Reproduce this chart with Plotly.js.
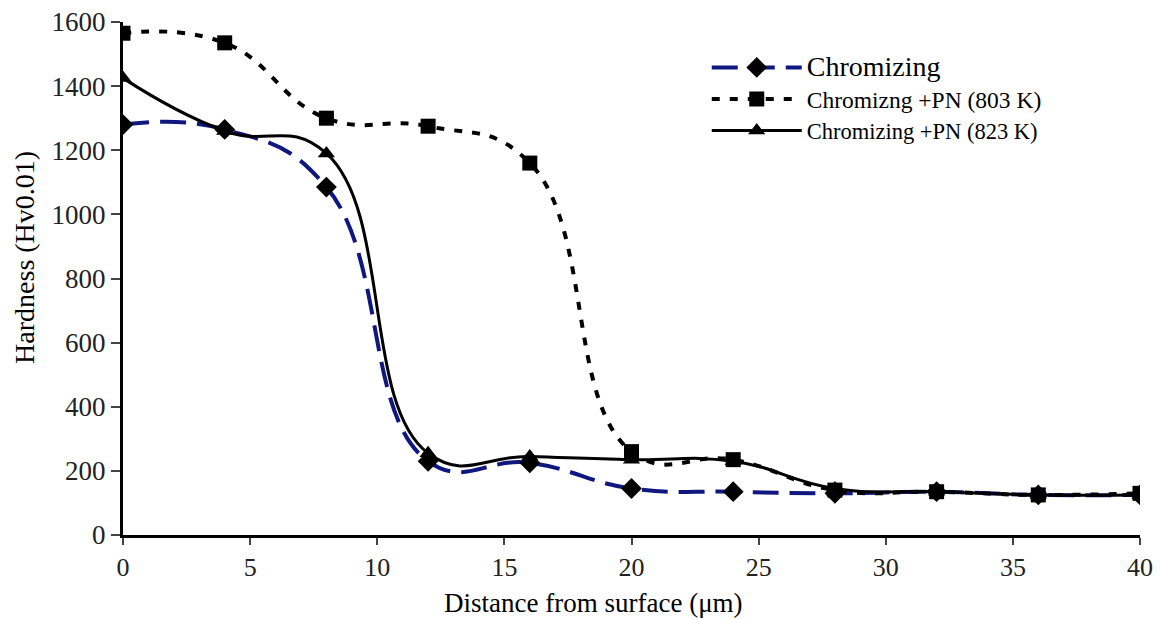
<!DOCTYPE html>
<html>
<head>
<meta charset="utf-8">
<script src="https://cdn.plot.ly/plotly-3.0.1.min.js"></script>
<style>html,body{margin:0;padding:0;background:#fff}#chart{width:1160px;height:619px}</style>
</head>
<body>
<div id="chart"></div>
<script>
const distance = [0, 4, 8, 12, 16, 20, 24, 28, 32, 36, 40];
const chromizing = [1280, 1265, 1085, 230, 225, 145, 135, 130, 135, 125, 125];
const pn803 = [1565, 1535, 1300, 1275, 1160, 260, 235, 140, 135, 125, 130];
const pn823 = [1425, 1260, 1190, 255, 245, 235, 230, 145, 135, 125, 125];
const seriesNames = ["Chromizing", "Chromizng +PN (803 K)", "Chromizing +PN (823 K)"];
const xTicks = [0, 5, 10, 15, 20, 25, 30, 35, 40];
const yTicks = [0, 200, 400, 600, 800, 1000, 1200, 1400, 1600];
const xTitle = "Distance from surface (\u03bcm)";
const yTitle = "Hardness (Hv0.01)";

const font = "'Liberation Serif', 'Times New Roman', serif";
const legendSizes = [28, 23.5, 22.5];
const nameOf = i => '<span style="font-size:' + legendSizes[i] + 'px">' + seriesNames[i] + '</span>';
const traces = [
  {x: distance, y: chromizing, name: nameOf(0), mode: "lines+markers",
   line: {color: "#101880", width: 4, dash: "26px,11px", shape: "spline", smoothing: 1.3},
   marker: {symbol: "diamond", size: 16, color: "#000"}},
  {x: distance, y: pn803, name: nameOf(1), mode: "lines+markers",
   line: {color: "#000", width: 4, dash: "8px,10px", shape: "spline", smoothing: 1.3},
   marker: {symbol: "square", size: 15, color: "#000"}},
  {x: distance, y: pn823, name: nameOf(2), mode: "lines+markers",
   line: {color: "#000", width: 3, shape: "spline", smoothing: 1.3},
   marker: {symbol: "triangle-up", size: 15, color: "#000"}}
];
const layout = {
  width: 1160, height: 619,
  margin: {l: 123, r: 20, t: 22, b: 84},
  paper_bgcolor: "#fff", plot_bgcolor: "#fff",
  font: {family: font, size: 26, color: "#111"},
  showlegend: true,
  legend: {x: 0.574, y: 0.952, xanchor: "left", yanchor: "top", bgcolor: "rgba(0,0,0,0)",
           font: {family: font, size: 22, color: "#000"}, tracegroupgap: 0, itemwidth: 90},
  xaxis: {range: [0, 40], tickvals: xTicks, ticks: "outside", ticklen: 7, tickwidth: 2,
          showline: true, linecolor: "#000", linewidth: 3, showgrid: false, zeroline: false,
          tickfont: {family: font, size: 26, color: "#222"}},
  yaxis: {range: [0, 1600], tickvals: yTicks, ticks: "outside", ticklen: 9, tickwidth: 2,
          showline: true, linecolor: "#000", linewidth: 3, showgrid: false, zeroline: false,
          tickfont: {family: font, size: 27, color: "#222"}},
  annotations: [
    {text: xTitle, xref: "paper", yref: "paper", x: 0.463, y: -0.1326, xanchor: "center", yanchor: "middle",
     showarrow: false, font: {family: font, size: 27, color: "#000"}},
    {text: yTitle, xref: "paper", yref: "paper", x: -0.0964, y: 0.542, xanchor: "center", yanchor: "middle",
     textangle: -90, showarrow: false, font: {family: font, size: 28, color: "#000"}}
  ]
};
Plotly.newPlot("chart", traces, layout, {staticPlot: true, displayModeBar: false});
</script>
</body>
</html>
